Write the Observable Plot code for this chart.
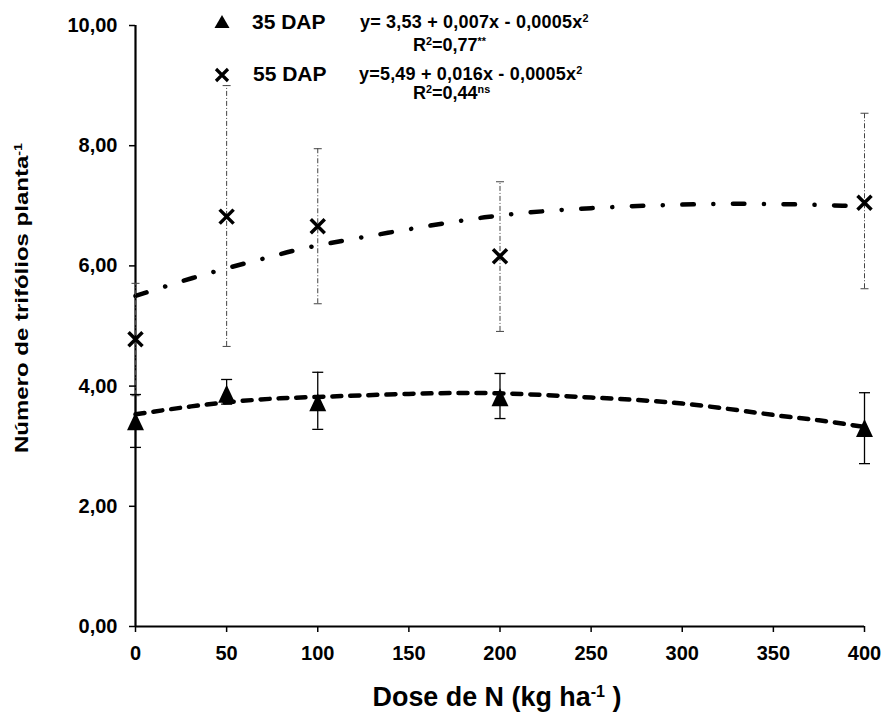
<!DOCTYPE html>
<html>
<head>
<meta charset="utf-8">
<script src="https://cdn.jsdelivr.net/npm/d3@7"></script>
<script src="https://cdn.jsdelivr.net/npm/@observablehq/plot@0.6"></script>
<style>
  html, body { margin: 0; padding: 0; background: #fff; }
  #wrap { position: relative; width: 885px; height: 717px; overflow: hidden; }
  .lbl { position: absolute; font-family: "Liberation Sans", Arial, sans-serif; font-weight: bold; color: #000; white-space: nowrap; line-height: 1; }
  sup { font-size: 0.6em; vertical-align: 0.55em; line-height: 0; }
</style>
</head>
<body>
<div id="wrap"></div>
<script>
// ---- data ----
const doses = [0, 50, 100, 200, 400];
const dap35Mean  = [3.38, 3.84, 3.70, 3.78, 3.27];
const dap35Upper = [3.86, 4.11, 4.23, 4.21, 3.89];
const dap35Lower = [2.98, 3.70, 3.28, 3.46, 2.71];
const dap55Mean  = [4.78, 6.82, 6.66, 6.16, 7.05];
const dap55Upper = [5.71, 9.00, 7.95, 7.40, 8.54];
const dap55Lower = [3.84, 4.66, 5.37, 4.91, 5.62];
// fitted curves
const fit35Dose = [0, 25, 50, 75, 100, 150, 200, 250, 300, 350, 375, 400];
const fit35Val  = [3.53, 3.64, 3.73, 3.79, 3.82, 3.87, 3.88, 3.81, 3.71, 3.52, 3.43, 3.32];
const fit55Dose = [0, 25, 50, 75, 100, 150, 200, 250, 300, 350, 400];
const fit55Val  = [5.50, 5.74, 5.96, 6.16, 6.34, 6.61, 6.84, 6.96, 7.02, 7.03, 6.99];
const xTicks = [0, 50, 100, 150, 200, 250, 300, 350, 400];
const yTicks = [0, 2, 4, 6, 8, 10];

const pts35 = doses.map((d, i) => ({dose: d, mean: dap35Mean[i], lo: dap35Lower[i], hi: dap35Upper[i]}));
const pts55 = doses.map((d, i) => ({dose: d, mean: dap55Mean[i], lo: dap55Lower[i], hi: dap55Upper[i]}));
const fit35 = fit35Dose.map((d, i) => ({dose: d, v: fit35Val[i]}));
const fit55 = fit55Dose.map((d, i) => ({dose: d, v: fit55Val[i]}));

// custom symbols
const triSym = {draw(ctx, size) { const s = Math.sqrt(size / Math.PI);
  ctx.moveTo(0, -1.375 * s); ctx.lineTo(1.06 * s, 0.875 * s); ctx.lineTo(-1.06 * s, 0.875 * s); ctx.closePath(); }};
const xSym = {draw(ctx, size) { const s = Math.sqrt(size / Math.PI);
  ctx.moveTo(-s, -s); ctx.lineTo(s, s); ctx.moveTo(s, -s); ctx.lineTo(-s, s); }};
const capSym = {draw(ctx, size) { const s = Math.sqrt(size / Math.PI);
  ctx.moveTo(-s, 0); ctx.lineTo(s, 0); }};

const fmt = d => d.toFixed(2).replace(".", ",");

const chart = Plot.plot({
  width: 885, height: 717,
  marginLeft: 135, marginRight: 21, marginTop: 25, marginBottom: 91,
  style: {fontFamily: '"Liberation Sans", Arial, sans-serif', fontSize: "20px", fontWeight: "bold", color: "#000", background: "#fff"},
  x: {domain: [0, 400]},
  y: {domain: [0, 10]},
  marks: [
    Plot.axisY({ticks: yTicks, tickFormat: fmt, tickSize: 6, tickPadding: 12, label: null, strokeWidth: 1.5}),
    Plot.axisX({ticks: xTicks, tickFormat: d => String(d), tickSize: 6, tickPadding: 13, label: null, strokeWidth: 1.5}),
    Plot.ruleY([0], {stroke: "#000", strokeWidth: 2.2}),
    Plot.ruleX([0], {stroke: "#000", strokeWidth: 2.2}),
    // fitted curves
    Plot.line(fit55, {x: "dose", y: "v", curve: "natural", stroke: "#000", strokeWidth: 4.5, strokeLinecap: "round", strokeDasharray: "11.5,19.5,0.1,19.5"}),
    Plot.line(fit35, {x: "dose", y: "v", curve: "natural", stroke: "#000", strokeWidth: 4.5, strokeLinecap: "round", strokeDasharray: "9,9"}),
    // error bars 55 DAP (dash-dot, thin)
    Plot.ruleX(pts55, {x: "dose", y1: "lo", y2: "hi", stroke: "#444", strokeWidth: 1, strokeDasharray: "5,2,1,2"}),
    Plot.dot(pts55, {x: "dose", y: "hi", symbol: capSym, r: 4, stroke: "#444", strokeWidth: 1}),
    Plot.dot(pts55, {x: "dose", y: "lo", symbol: capSym, r: 4, stroke: "#444", strokeWidth: 1}),
    // error bars 35 DAP (solid)
    Plot.ruleX(pts35, {x: "dose", y1: "lo", y2: "hi", stroke: "#000", strokeWidth: 1.3}),
    Plot.dot(pts35, {x: "dose", y: "hi", symbol: capSym, r: 5.5, stroke: "#000", strokeWidth: 1.3}),
    Plot.dot(pts35, {x: "dose", y: "lo", symbol: capSym, r: 5.5, stroke: "#000", strokeWidth: 1.3}),
    // points
    Plot.dot(pts35, {x: "dose", y: "mean", symbol: triSym, r: 8, fill: "#000", stroke: "none"}),
    Plot.dot(pts55, {x: "dose", y: "mean", symbol: xSym, r: 7, stroke: "#000", strokeWidth: 3.5, fill: "none"})
  ]
});

const wrap = document.getElementById("wrap");
wrap.appendChild(chart);

function addLabel(html, css) {
  const d = document.createElement("div");
  d.className = "lbl";
  d.innerHTML = html;
  Object.assign(d.style, css);
  wrap.appendChild(d);
  return d;
}
// legend symbols
addLabel('<svg width="18" height="16" viewBox="-9 -9 18 16"><path d="M0,-7 L7.5,6 L-7.5,6 Z" fill="#000"/></svg>', {left: "213px", top: "13px"});
addLabel('<svg width="18" height="18" viewBox="-9 -9 18 18"><path d="M-6,-6 L6,6 M6,-6 L-6,6" stroke="#000" stroke-width="3.2" fill="none"/></svg>', {left: "213px", top: "66px"});
// legend texts
addLabel("35 DAP", {left: "252px", top: "11px", fontSize: "21px"});
addLabel("55 DAP", {left: "253px", top: "63px", fontSize: "21px"});
addLabel("y= 3,53 + 0,007x - 0,0005x<sup>2</sup>", {left: "360px", top: "13px", fontSize: "18px", letterSpacing: "0.2px"});
addLabel("R<sup>2</sup>=0,77<sup>**</sup>", {left: "413px", top: "36px", fontSize: "18px"});
addLabel("y=5,49 + 0,016x - 0,0005x<sup>2</sup>", {left: "359px", top: "65px", fontSize: "18px", letterSpacing: "0.2px"});
addLabel("R<sup>2</sup>=0,44<sup>ns</sup>", {left: "413px", top: "84px", fontSize: "18px"});
// axis titles
addLabel("Dose de N (kg ha<sup>-1</sup> )", {left: "497px", top: "683px", fontSize: "28px", transform: "translateX(-50%) scaleX(0.96)"});
addLabel("Número de trifólios planta<sup>-1</sup>", {left: "22px", top: "298px", fontSize: "24px", transform: "translate(-50%,-50%) rotate(-90deg) scaleY(0.8)"});
</script>
</body>
</html>
